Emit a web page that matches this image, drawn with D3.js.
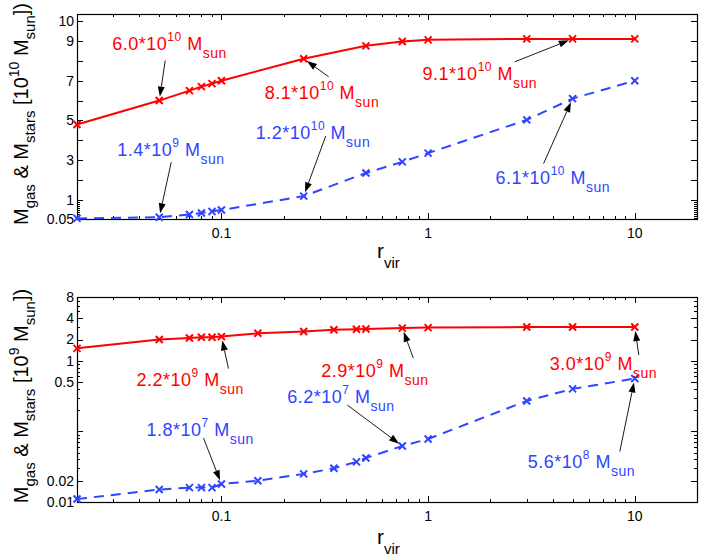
<!DOCTYPE html>
<html>
<head>
<meta charset="utf-8">
<script src="https://cdn.jsdelivr.net/npm/d3@7"></script>
<style>
	body { margin: 0; background: #fff; }
	text { font-family: "Liberation Sans", Arial, Helvetica, sans-serif; }
</style>
</head>
<body>
<div id="chart"></div>
<script>
// radius in units of r_vir
const rTop = [0.02, 0.05, 0.07, 0.08, 0.09, 0.1, 0.25, 0.5, 0.75, 1, 3, 5, 10];
// masses in 10^10 M_sun
const gasTop = [4.8, 6.0, 6.5, 6.7, 6.85, 7.0, 8.1, 8.75, 8.97, 9.05, 9.1, 9.1, 9.1];
const starsTop = [0.08, 0.14, 0.28, 0.35, 0.43, 0.5, 1.2, 2.36, 2.92, 3.36, 5.03, 6.1, 7.0];

const rBottom = [0.02, 0.05, 0.07, 0.08, 0.09, 0.1, 0.15, 0.25, 0.35, 0.45, 0.5, 0.75, 1, 3, 5, 10];
// masses in 10^9 M_sun
const gasBottom = [1.5, 2.0, 2.1, 2.15, 2.15, 2.2, 2.45, 2.6, 2.75, 2.8, 2.82, 2.9, 2.95, 3.0, 3.0, 3.0];
const starsBottom = [0.011, 0.015, 0.016, 0.016, 0.016, 0.018, 0.02, 0.025, 0.03, 0.037, 0.042, 0.062, 0.078, 0.27, 0.4, 0.56];

const xTickLabels = [0.1, 1, 10];
const topYTickLabels = [0.05, 1, 3, 5, 7, 9, 10];
const bottomYTickLabels = [0.01, 0.02, 0.5, 1, 2, 4, 8];

const topNotes = [
	{ series: "gas", r: 0.05, mant: "6.0", exp: "10" },
	{ series: "gas", r: 0.25, mant: "8.1", exp: "10" },
	{ series: "gas", r: 5, mant: "9.1", exp: "10" },
	{ series: "stars", r: 0.05, mant: "1.4", exp: "9" },
	{ series: "stars", r: 0.25, mant: "1.2", exp: "10" },
	{ series: "stars", r: 5, mant: "6.1", exp: "10" },
];
const bottomNotes = [
	{ series: "gas", r: 0.1, mant: "2.2", exp: "9" },
	{ series: "gas", r: 0.75, mant: "2.9", exp: "9" },
	{ series: "gas", r: 10, mant: "3.0", exp: "9" },
	{ series: "stars", r: 0.1, mant: "1.8", exp: "7" },
	{ series: "stars", r: 0.75, mant: "6.2", exp: "7" },
	{ series: "stars", r: 10, mant: "5.6", exp: "8" },
];

// label / arrow-tail offsets from the annotated point, in px
const topNoteLayout = [
	{ tx: -47, ty: -51, ax: 6, ay: -40 },
	{ tx: -39, ty: 40, ax: 25, ay: 18 },
	{ tx: -150, ty: 41, ax: -58, ay: 23 },
	{ tx: -42, ty: -61, ax: 12, ay: -55 },
	{ tx: -48, ty: -57, ax: 22, ay: -60 },
	{ tx: -77, ty: 85, ax: -29, ay: 65 },
];
const bottomNoteLayout = [
	{ tx: -85, ty: 49, ax: 7, ay: 32 },
	{ tx: -81, ty: 49, ax: 11, ay: 30 },
	{ tx: -85, ty: 43, ax: 4, ay: 28 },
	{ tx: -75, ty: -48, ax: -18, ay: -46 },
	{ tx: -115, ty: -43, ax: -55, ay: -41 },
	{ tx: -107, ty: 89, ax: -15, ay: 73 },
];

const width = 703;
const height = 560;
const marginLeft = 77;
const marginRight = 6;
const red = "#ff0000";
const blue = "#2f45ff";

const svg = d3
	.select("#chart")
	.append("svg")
	.attr("width", width)
	.attr("height", height);

const x = d3
	.scaleLog()
	.domain([0.02, 20])
	.range([marginLeft, width - marginRight]);

// log minor ticks for x
const xMinor = [];
for (let dec = 0.01; dec <= 10; dec *= 10) {
	for (let m = 1; m <= 9; m++) {
		const v = +(m * dec).toPrecision(3);
		if (v >= 0.02 && v <= 20) xMinor.push(v);
	}
}

const panels = [
	{
		top: 14,
		bottom: 219,
		y: d3.scaleLinear().domain([0.05, 10.35]).range([219, 14]),
		yLabels: topYTickLabels,
		yMajor: d3.range(1, 11),
		yMinor: d3.range(1, 10).map((d) => d / 10),
		r: rTop,
		gas: gasTop,
		stars: starsTop,
		notes: topNotes,
		layout: topNoteLayout,
		unitExp: "10",
		labelY: 114,
		xLabelY: 258,
	},
	{
		top: 297,
		bottom: 502,
		y: d3.scaleLog().domain([0.01, 8]).range([502, 297]),
		yLabels: bottomYTickLabels,
		yMajor: [0.01, 0.1, 1],
		yMinor: [0.02, 0.03, 0.04, 0.05, 0.06, 0.07, 0.08, 0.09, 0.2, 0.3, 0.4, 0.5, 0.6, 0.7, 0.8, 0.9, 2, 3, 4, 5, 6, 7, 8],
		r: rBottom,
		gas: gasBottom,
		stars: starsBottom,
		notes: bottomNotes,
		layout: bottomNoteLayout,
		unitExp: "9",
		labelY: 396,
		xLabelY: 544,
	},
];

const xMark = (g, px, py, color) => {
	const s = 3.5;
	g.append("path")
		.attr("d", `M${px - s},${py - s}L${px + s},${py + s}M${px - s},${py + s}L${px + s},${py - s}`)
		.attr("stroke", color)
		.attr("stroke-width", 2)
		.attr("fill", "none");
};

function massLabel(g, px, py, mant, exp, color) {
	const t = g
		.append("text")
		.attr("x", px)
		.attr("y", py)
		.attr("fill", color)
		.style("font-size", "18px")
		.style("letter-spacing", "0.5px");
	t.append("tspan").text(mant + "*10");
	t.append("tspan").text(exp).style("font-size", "12px").attr("dy", -9);
	t.append("tspan").text(" M").attr("dy", 9);
	t.append("tspan").text("sun").style("font-size", "14px").attr("dy", 8);
}

function drawPanel(p) {
	const g = svg.append("g");
	const x0 = marginLeft;
	const x1 = width - marginRight;

	// tick marks inside the box, on all four sides
	const ticks = g.append("g").attr("stroke", "#000").attr("stroke-width", 1);
	xMinor.forEach((v) => {
		const len = xTickLabels.includes(v) ? 6 : 3;
		const px = Math.round(x(v)) + 0.5;
		ticks.append("line").attr("x1", px).attr("x2", px).attr("y1", p.bottom).attr("y2", p.bottom - len);
		ticks.append("line").attr("x1", px).attr("x2", px).attr("y1", p.top).attr("y2", p.top + len);
	});
	const yTickVals = p.yMajor.concat(p.yLabels).map((v) => [v, 6]).concat(p.yMinor.map((v) => [v, 3]));
	yTickVals.forEach(([v, len]) => {
		const py = Math.round(p.y(v)) + 0.5;
		ticks.append("line").attr("x1", x0).attr("x2", x0 + len).attr("y1", py).attr("y2", py);
		ticks.append("line").attr("x1", x1).attr("x2", x1 - len).attr("y1", py).attr("y2", py);
	});

	g.append("rect")
		.attr("x", x0 + 0.5)
		.attr("y", p.top + 0.5)
		.attr("width", x1 - x0)
		.attr("height", p.bottom - p.top)
		.attr("fill", "none")
		.attr("stroke", "#000")
		.attr("stroke-width", 1.2);

	// tick labels
	g.selectAll(".xl")
		.data(xTickLabels)
		.enter()
		.append("text")
		.attr("x", (d) => x(d))
		.attr("y", p.bottom + 19)
		.attr("text-anchor", "middle")
		.style("font-size", "14px")
		.text((d) => d);
	g.selectAll(".yl")
		.data(p.yLabels)
		.enter()
		.append("text")
		.attr("x", x0 - 3)
		.attr("y", (d) => p.y(d))
		.attr("dy", "0.35em")
		.attr("text-anchor", "end")
		.style("font-size", "14px")
		.text((d) => d);

	// axis titles
	const xl = g.append("text").attr("x", 377).attr("y", p.xLabelY).style("font-size", "21px");
	xl.append("tspan").text("r");
	xl.append("tspan").text("vir").style("font-size", "15px").attr("dy", 10);

	const yl = g
		.append("text")
		.attr("transform", `translate(28,${p.labelY}) rotate(-90)`)
		.attr("text-anchor", "middle")
		.style("font-size", "20px");
	yl.append("tspan").text("M");
	yl.append("tspan").text("gas").style("font-size", "15px").attr("dy", 7);
	yl.append("tspan").text(" & M").attr("dy", -7);
	yl.append("tspan").text("stars").style("font-size", "15px").attr("dy", 7);
	yl.append("tspan").text(" [10").attr("dy", -7);
	yl.append("tspan").text(p.unitExp).style("font-size", "14px").attr("dy", -9);
	yl.append("tspan").text(" M").attr("dy", 9);
	yl.append("tspan").text("sun").style("font-size", "15px").attr("dy", 7);
	yl.append("tspan").text("])").attr("dy", -7);

	// series
	const series = [
		{ key: "gas", values: p.gas, color: red, dash: null },
		{ key: "stars", values: p.stars, color: blue, dash: "10,7" },
	];
	const line = d3
		.line()
		.x((d) => x(d[0]))
		.y((d) => p.y(d[1]));
	series.forEach((s) => {
		const pts = p.r.map((r, i) => [r, s.values[i]]);
		g.append("path")
			.datum(pts)
			.attr("d", line)
			.attr("fill", "none")
			.attr("stroke", s.color)
			.attr("stroke-width", 2)
			.attr("stroke-dasharray", s.dash);
		pts.forEach((d) => xMark(g, x(d[0]), p.y(d[1]), s.color));
	});

	// annotations with arrows
	p.notes.forEach((n, i) => {
		const lay = p.layout[i];
		const vals = n.series === "gas" ? p.gas : p.stars;
		const color = n.series === "gas" ? red : blue;
		const px = x(n.r);
		const py = p.y(vals[p.r.indexOf(n.r)]);
		massLabel(g, px + lay.tx, py + lay.ty, n.mant, n.exp, color);

		const sx = px + lay.ax;
		const sy = py + lay.ay;
		const len = Math.hypot(px - sx, py - sy);
		const ux = (px - sx) / len;
		const uy = (py - sy) / len;
		const tipX = px - ux * 4;
		const tipY = py - uy * 4;
		const headL = 10;
		const headW = 3.5;
		const bx = tipX - ux * headL;
		const by = tipY - uy * headL;
		g.append("line")
			.attr("x1", sx)
			.attr("y1", sy)
			.attr("x2", bx)
			.attr("y2", by)
			.attr("stroke", "#000")
			.attr("stroke-width", 0.9);
		g.append("path")
			.attr(
				"d",
				`M${tipX},${tipY}L${bx - uy * headW},${by + ux * headW}L${bx + uy * headW},${by - ux * headW}Z`
			)
			.attr("fill", "#000");
	});
}

panels.forEach(drawPanel);
</script>
</body>
</html>
